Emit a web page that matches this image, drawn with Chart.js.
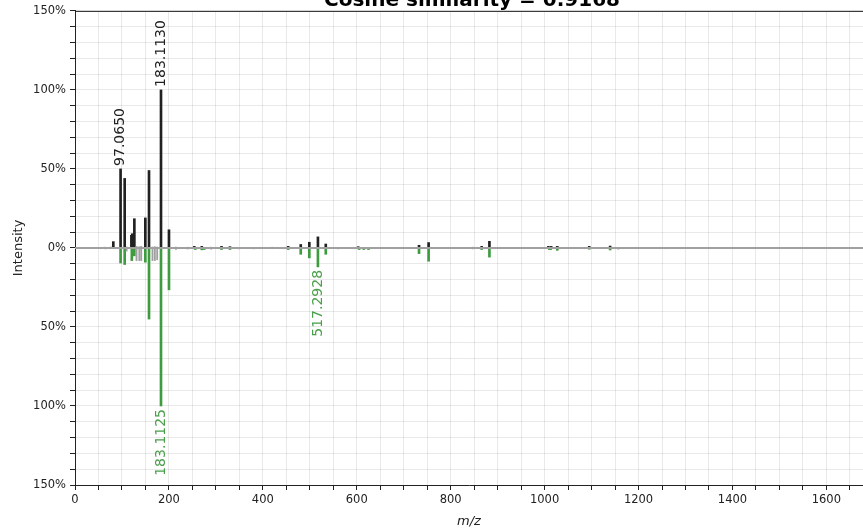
<!DOCTYPE html>
<html>
<head>
<meta charset="utf-8">
<script src="https://cdn.jsdelivr.net/npm/chart.js@4.4.1/dist/chart.umd.min.js"></script>
<style>
  html, body { margin: 0; padding: 0; background: #fff; }
</style>
</head>
<body>
<canvas id="myChart" width="863" height="531"></canvas>
<script>
// 제목
const TITLE = "Cosine similarity = 0.9168";

// 위쪽 스펙트럼 (m/z, 상대 강도 %, 매칭 여부)
const topMz = [55, 63, 72, 77, 81.6, 97.065, 105.8, 110, 120.1, 121.9, 126.4, 131, 137, 141, 149.8, 157.6, 165, 170, 175, 183.113, 200.1, 215, 230, 240, 254, 270, 290, 312, 330, 350, 395, 420, 454, 480.7, 499, 517.3, 534, 560, 603, 640, 680, 732.6, 753, 847, 866, 882.5, 1008, 1014, 1027, 1065, 1095, 1139.5];
const topIntensity = [0.4, 0.5, 0.4, 0.6, 4, 50, 44, 0.6, 8, 9, 18.5, 1, 0.8, 1, 19, 49, 0.6, 0.8, 0.6, 100, 11.5, 0.5, 0.4, 0.5, 1, 1, 0.5, 1, 0.8, 0.4, 0.4, 0.5, 1, 2.2, 3.6, 7, 2.5, 0.4, 0.8, 0.4, 0.4, 1.7, 3.4, 0.5, 1, 4.2, 1, 1, 1, 0.4, 1, 1.2];
const topMatched = [0, 0, 0, 0, 1, 1, 1, 0, 1, 1, 1, 0, 0, 0, 1, 1, 0, 0, 0, 1, 1, 0, 0, 0, 1, 1, 0, 1, 1, 0, 0, 0, 1, 1, 1, 1, 1, 0, 1, 0, 0, 1, 1, 0, 1, 1, 1, 1, 1, 0, 1, 1];

// 아래쪽 스펙트럼
const bottomMz = [55, 65, 75, 97.07, 105.8, 110, 121, 126.4, 131, 137, 141, 149.8, 157.6, 165, 170, 175, 183.1125, 200.1, 215, 240, 256, 270, 275, 290, 312, 330, 350, 380, 420, 454, 480.7, 499, 517.2928, 534, 560, 605, 615, 625, 680, 732.6, 753, 847, 866, 882.5, 1010, 1013, 1027, 1095, 1139.5, 1157, 1257, 1289];
const bottomIntensity = [0.5, 0.6, 0.5, 9.5, 10.5, 2, 8, 5, 8, 8, 8, 9, 45, 8, 8, 7.5, 100, 26.5, 1, 0.7, 1, 1.2, 1, 0.8, 1, 1, 0.6, 0.6, 0.5, 1, 4, 6.3, 12, 4, 0.6, 1, 1, 1, 0.5, 3.6, 8.4, 0.6, 1, 5.8, 1, 1, 1.5, 0.8, 1.3, 0.8, 0.5, 0.5];
const bottomMatched = [0, 0, 0, 1, 1, 0, 1, 1, 0, 0, 0, 1, 1, 0, 0, 0, 1, 1, 0, 0, 1, 1, 1, 0, 1, 1, 0, 0, 0, 1, 1, 1, 1, 1, 0, 1, 1, 1, 0, 1, 1, 0, 1, 1, 1, 1, 1, 1, 1, 0, 0, 0];

// 라벨을 붙일 피크
const topLabelMz = [97.065, 183.113];
const bottomLabelMz = [517.2928, 183.1125];

// 축 범위
const X_MAX = 1678;
const Y_LIMIT = 150;

const TOP_COLOR = "#212121";
const BOTTOM_COLOR = "#3f9b3f";
const BOTTOM_TEXT = "#4a9f4a";
const UNMATCHED = "#a0a0a0";
const GRID = "rgba(0, 0, 0, 0.085)";
const FONT = "'DejaVu Sans', sans-serif";

// 매칭 여부에 따라 점을 골라내는 함수
const pickPoints = (mz, inten, matched, sign, want) =>
  mz
    .map((m, i) => ({ x: m, y: sign * inten[i], keep: matched[i] === want }))
    .filter((p) => p.keep)
    .map(({ x, y }) => ({ x, y }));

const barSet = (data, color, thickness) => ({
  data,
  backgroundColor: color,
  barThickness: thickness,
  grouped: false,
});

// 0선, 위쪽 테두리, 피크 라벨, 제목
const mirrorDecor = {
  id: "mirrorDecor",
  afterDatasetsDraw(chart) {
    const { ctx, chartArea, scales } = chart;
    const xs = scales.x;
    const ys = scales.y;
    ctx.save();

    const y0 = ys.getPixelForValue(0);
    ctx.strokeStyle = UNMATCHED;
    ctx.lineWidth = 2;
    ctx.beginPath();
    ctx.moveTo(chartArea.left, y0);
    ctx.lineTo(chartArea.right, y0);
    ctx.stroke();

    ctx.strokeStyle = "#222";
    ctx.lineWidth = 1;
    ctx.beginPath();
    ctx.moveTo(chartArea.left, chartArea.top + 0.5);
    ctx.lineTo(chartArea.right, chartArea.top + 0.5);
    ctx.stroke();

    ctx.font = "14px " + FONT;
    ctx.textBaseline = "middle";
    topLabelMz.forEach((m) => {
      const i = topMz.indexOf(m);
      ctx.save();
      ctx.translate(xs.getPixelForValue(m), ys.getPixelForValue(topIntensity[i]) - 3);
      ctx.rotate(-Math.PI / 2);
      ctx.fillStyle = TOP_COLOR;
      ctx.textAlign = "left";
      ctx.fillText(m.toFixed(4), 0, 0);
      ctx.restore();
    });
    bottomLabelMz.forEach((m) => {
      const i = bottomMz.indexOf(m);
      ctx.save();
      ctx.translate(xs.getPixelForValue(m), ys.getPixelForValue(-bottomIntensity[i]) + 3);
      ctx.rotate(-Math.PI / 2);
      ctx.fillStyle = BOTTOM_TEXT;
      ctx.textAlign = "right";
      ctx.fillText(m.toFixed(4), 0, 0);
      ctx.restore();
    });

    // 위가 잘린 제목
    ctx.fillStyle = "#000";
    ctx.font = "bold 20px " + FONT;
    ctx.textAlign = "center";
    ctx.textBaseline = "alphabetic";
    ctx.fillText(TITLE, 472, 6);
    ctx.restore();
  },
};

const ctx = document.getElementById("myChart").getContext("2d");

new Chart(ctx, {
  type: "bar",
  data: {
    datasets: [
      barSet(pickPoints(topMz, topIntensity, topMatched, 1, 0), UNMATCHED, 1.2),
      barSet(pickPoints(bottomMz, bottomIntensity, bottomMatched, -1, 0), UNMATCHED, 1.2),
      barSet(pickPoints(topMz, topIntensity, topMatched, 1, 1), TOP_COLOR, 2),
      barSet(pickPoints(bottomMz, bottomIntensity, bottomMatched, -1, 1), BOTTOM_COLOR, 2),
    ],
  },
  options: {
    responsive: false,
    animation: false,
    layout: { padding: { top: 9, right: 0, left: 0, bottom: 0 } },
    plugins: {
      legend: { display: false },
      tooltip: { enabled: false },
    },
    scales: {
      x: {
        type: "linear",
        min: 0,
        max: X_MAX,
        offset: false,
        border: { color: "#222", width: 1 },
        grid: { color: GRID, tickColor: "#222", tickLength: 5, offset: false },
        ticks: {
          stepSize: 50,
          autoSkip: false,
          includeBounds: false,
          maxRotation: 0,
          color: "#222",
          padding: 3,
          font: { family: FONT, size: 11.5 },
          callback: (v) => (v % 200 === 0 ? String(v) : ""),
        },
        title: {
          display: true,
          text: "m/z",
          color: "#222",
          font: { family: FONT, size: 13, style: "italic" },
          padding: { top: 2, bottom: 2 },
        },
        afterFit: (scale) => { scale.height = 46; },
      },
      y: {
        min: -Y_LIMIT,
        max: Y_LIMIT,
        border: { color: "#222", width: 1 },
        grid: { color: GRID, tickColor: "#222", tickLength: 5 },
        ticks: {
          stepSize: 10,
          autoSkip: false,
          color: "#222",
          padding: 4,
          font: { family: FONT, size: 11.5 },
          callback: (v) => (v % 50 === 0 ? Math.abs(v) + "%" : ""),
        },
        title: {
          display: true,
          text: "Intensity",
          color: "#222",
          font: { family: FONT, size: 13 },
          padding: { top: 11, bottom: 0 },
        },
        afterFit: (scale) => { scale.width = 75; },
      },
    },
  },
  plugins: [mirrorDecor],
});
</script>
</body>
</html>
